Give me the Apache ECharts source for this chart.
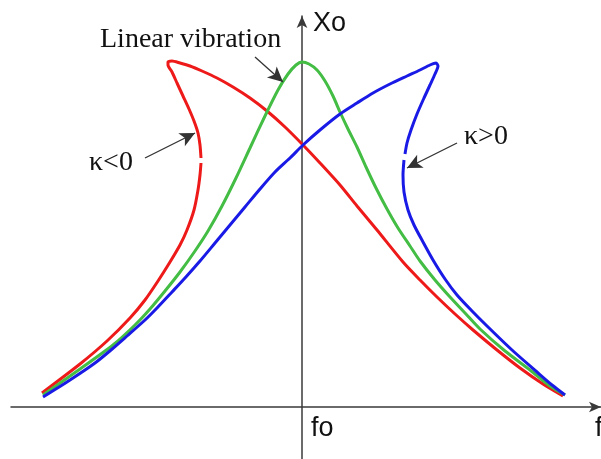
<!DOCTYPE html>
<html>
<head>
<meta charset="utf-8">
<script src="https://cdn.jsdelivr.net/npm/echarts@6/dist/echarts.min.js"></script>
<style>
  html, body { margin: 0; padding: 0; background: #ffffff; }
  #chart { width: 601px; height: 459px; }
</style>
</head>
<body>
<div id="chart"></div>
<script>
// Frequency response curves: detuning (f - fo) against amplitude Xo.
// Each curve is a list of [detuning, amplitude] points; null marks a short break.
const softeningCurve = [ // κ<0, bent towards lower frequency
  [-2.60, 0.14], [-2.22, 0.43], [-1.95, 0.66], [-1.72, 0.89], [-1.57, 1.07],
  [-1.44, 1.26], [-1.32, 1.45], [-1.22, 1.62], [-1.15, 1.77], [-1.08, 1.97],
  [-1.04, 2.17], [-1.02, 2.32], [-1.01, 2.44], null,
  [-1.01, 2.49], [-1.02, 2.62], [-1.04, 2.74], [-1.08, 2.86], [-1.13, 2.98],
  [-1.19, 3.11], [-1.25, 3.24], [-1.30, 3.35], [-1.34, 3.42], [-1.34, 3.45],
  [-1.30, 3.46], [-1.22, 3.44], [-1.12, 3.41], [-1.00, 3.36], [-0.85, 3.29],
  [-0.69, 3.20], [-0.52, 3.09], [-0.35, 2.96], [-0.17, 2.80], [0.01, 2.62],
  [0.18, 2.44], [0.38, 2.22], [0.55, 2.01], [0.75, 1.77], [1.01, 1.45],
  [1.18, 1.27], [1.35, 1.10], [1.53, 0.93], [1.71, 0.77], [1.95, 0.57],
  [2.18, 0.39], [2.41, 0.23], [2.61, 0.11]
];
const linearCurve = [
  [-2.59, 0.12], [-2.22, 0.38], [-1.89, 0.62], [-1.67, 0.82], [-1.52, 0.98],
  [-1.37, 1.16], [-1.22, 1.35], [-1.07, 1.56], [-0.94, 1.76], [-0.80, 2.01],
  [-0.66, 2.29], [-0.52, 2.59], [-0.37, 2.91], [-0.24, 3.17], [-0.14, 3.33],
  [-0.06, 3.42], [0.00, 3.45], [0.07, 3.43], [0.15, 3.37], [0.23, 3.26],
  [0.31, 3.11], [0.38, 2.95], [0.46, 2.78], [0.55, 2.60], [0.64, 2.40],
  [0.74, 2.19], [0.85, 1.98], [0.96, 1.79], [1.08, 1.61], [1.18, 1.46],
  [1.33, 1.27], [1.48, 1.10], [1.63, 0.94], [1.78, 0.78], [2.03, 0.56],
  [2.28, 0.37], [2.48, 0.21], [2.63, 0.12]
];
const hardeningCurve = [ // κ>0, bent towards higher frequency
  [-2.59, 0.10], [-2.32, 0.27], [-2.07, 0.44], [-1.91, 0.57], [-1.75, 0.71],
  [-1.57, 0.87], [-1.45, 0.99], [-1.30, 1.15], [-1.17, 1.29], [-1.02, 1.46],
  [-0.87, 1.64], [-0.72, 1.82], [-0.57, 2.00], [-0.42, 2.18], [-0.27, 2.35],
  [-0.12, 2.49], [0.01, 2.62], [0.18, 2.77], [0.38, 2.93], [0.55, 3.04],
  [0.71, 3.14], [0.88, 3.23], [1.05, 3.31], [1.18, 3.37], [1.28, 3.42],
  [1.34, 3.44], [1.36, 3.41], [1.33, 3.33], [1.28, 3.22], [1.22, 3.09],
  [1.15, 2.93], [1.09, 2.77], [1.05, 2.64], [1.03, 2.53], null,
  [1.02, 2.47], [1.01, 2.32], [1.02, 2.15], [1.06, 1.97], [1.12, 1.82],
  [1.21, 1.65], [1.31, 1.47], [1.43, 1.28], [1.55, 1.12], [1.70, 0.96],
  [1.85, 0.81], [2.10, 0.57], [2.35, 0.35], [2.50, 0.22], [2.63, 0.12]
];

const labels = {
  amplitude: 'Xo',
  resonance: 'fo',
  frequency: 'f',
  linear: 'Linear vibration',
  softening: 'κ<0',
  hardening: 'κ>0'
};

// Pointer arrows for the annotations, in axis units: [from, to]
const pointers = [
  [[-0.47, 3.50], [-0.19, 3.25]],
  [[-1.57, 2.49], [-1.07, 2.74]],
  [[1.55, 2.64], [1.05, 2.39]]
];

const chart = echarts.init(document.getElementById('chart'), null, { renderer: 'canvas' });

const axisLine = {
  show: true,
  onZero: true,
  symbol: ['none', 'arrow'],
  symbolSize: [8, 12],
  lineStyle: { color: '#3a3a3a', width: 1.5 }
};

function curve(name, data, color) {
  return {
    name: name,
    type: 'line',
    data: data,
    showSymbol: false,
    connectNulls: false,
    smooth: 0.25,
    lineStyle: { color: color, width: 3 },
    emphasis: { disabled: true },
    silent: true,
    z: 3
  };
}

const serifFont = '28px "Liberation Serif", "Times New Roman", serif';
const sansFont = '27px "Liberation Sans", Arial, sans-serif';

function label(text, x, y, font) {
  return {
    type: 'text',
    x: x,
    y: y,
    silent: true,
    style: { text: text, font: font, fill: '#111111', align: 'left', verticalAlign: 'middle' }
  };
}

chart.setOption({
  animation: false,
  backgroundColor: '#ffffff',
  grid: { left: 11, right: 0, top: 16, bottom: 0, containLabel: false },
  xAxis: {
    type: 'value',
    min: -2.91,
    max: 2.99,
    axisLine: axisLine,
    axisTick: { show: false },
    axisLabel: { show: false },
    splitLine: { show: false }
  },
  yAxis: {
    type: 'value',
    min: -0.52,
    max: 3.91,
    axisLine: axisLine,
    axisTick: { show: false },
    axisLabel: { show: false },
    splitLine: { show: false }
  },
  series: [
    curve('κ<0', softeningCurve, '#ee1a1a'),
    curve('Linear vibration', linearCurve, '#44bd44'),
    curve('κ>0', hardeningCurve, '#1a1ae6'),
    {
      name: 'pointers',
      type: 'line',
      data: [],
      silent: true,
      markLine: {
        silent: true,
        symbol: ['none', 'arrow'],
        symbolSize: [11, 15],
        label: { show: false },
        lineStyle: { color: '#333333', width: 1.3, type: 'solid' },
        emphasis: { disabled: true },
        data: pointers.map(p => [{ coord: p[0] }, { coord: p[1] }])
      }
    }
  ],
  graphic: [
    label(labels.amplitude, 313, 24, sansFont),
    label(labels.resonance, 311, 429, sansFont),
    label(labels.frequency, 595, 429, sansFont),
    label(labels.linear, 100, 40, serifFont),
    label(labels.softening, 89, 163, serifFont),
    label(labels.hardening, 464, 137, serifFont)
  ]
});
</script>
</body>
</html>
